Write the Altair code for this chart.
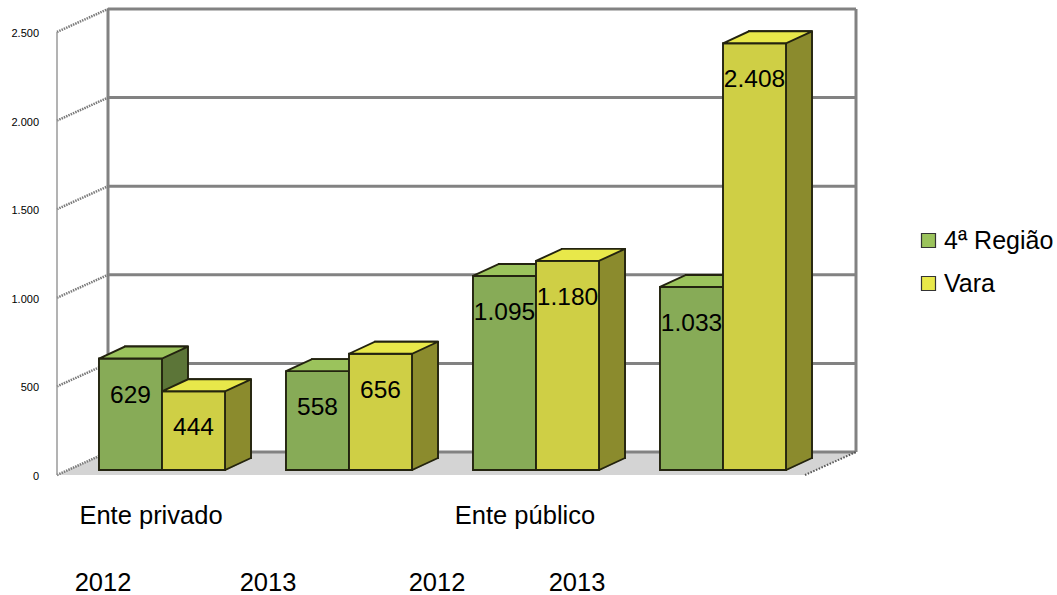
import altair as alt
import pandas as pd

# ---------------- data ----------------
groups = ["Ente privado 2012", "Ente privado 2013", "Ente público 2012", "Ente público 2013"]
series = ["4ª Região", "Vara"]
regiao_values = [629, 558, 1095, 1033]
vara_values = [444, 656, 1180, 2408]
y_ticks = [0, 500, 1000, 1500, 2000, 2500]
cat_labels = ["Ente privado", "Ente público"]
year_labels = ["2012", "2013", "2012", "2013"]

# ---------------- layout / style ----------------
W, H = 748, 443
PAD = {"left": 57, "top": 32, "right": 1057 - 57 - W, "bottom": 595 - 32 - H}
WALL_DX, WALL_DY = 51, 23
BAR_SX, BAR_SY = 11.5, 5
BAR_DX, BAR_DY = 26, 12
P_IN, P_OUT = 0.326, 0.163
front_colors = ["#87ab57", "#cfcf45"]
top_colors = ["#9bc35c", "#e8e84a"]
side_colors = ["#5c7538", "#8b8b2d"]
OUT = "#23230f"
GRID = "#828282"
FONT = "Liberation Sans"
cat_x = [94, 468]
cat_y = 484
year_x = [46, 211, 380, 520]
year_y = 551

rows = []
for g, r, v in zip(groups, regiao_values, vara_values):
    rows.append({"group": g, "series": series[0], "value": r})
    rows.append({"group": g, "series": series[1], "value": v})
df = pd.DataFrame(rows)
df["label"] = df["value"].map(lambda v: f"{v:,}".replace(",", "."))

ticks_df = pd.DataFrame({"v": y_ticks})
ticks_df["label"] = ticks_df["v"].map(lambda v: f"{v:,}".replace(",", "."))
one = pd.DataFrame({"lo": [0], "hi": [2500]})

yscale = alt.Scale(domain=[0, 2500], nice=False)

step = W / (len(groups) - P_IN + 2 * P_OUT)
BW = step * (1 - P_IN) / 2
u = BW / 2


def xenc(shift):
    return alt.X("group:N", scale=alt.Scale(type="band", domain=groups, range=[shift, shift + W],
                                            paddingInner=P_IN, paddingOuter=P_OUT),
                 axis=None, title=None)


xoff = alt.XOffset("series:N", scale=alt.Scale(type="band", domain=series,
                                               paddingInner=0, paddingOuter=0))


def yenc(field="value"):
    return alt.Y(f"{field}:Q", scale=yscale, axis=None, title=None)


# floor parallelogram as a custom symbol
fcx = (WALL_DX + W) / 2
fcy = H - WALL_DY / 2
fu = fcx
floor_path = (f"M -1 {WALL_DY/2/fu:.5f} L {(W - fcx)/fu:.5f} {WALL_DY/2/fu:.5f} "
              f"L 1 {-WALL_DY/2/fu:.5f} L {(WALL_DX - fcx)/fu:.5f} {-WALL_DY/2/fu:.5f} Z")
floor = alt.Chart(pd.DataFrame({"a": [0]})).mark_point(
    shape=floor_path, size=(2 * fu) ** 2, filled=True, fill="#d4d4d4", strokeWidth=0, opacity=1
).encode(x=alt.value(fcx), y=alt.value(fcy))

# back wall gridlines
grid = alt.Chart(ticks_df).mark_rule(color=GRID, strokeWidth=3, yOffset=-WALL_DY).encode(
    x=alt.value(WALL_DX), x2=alt.value(W + WALL_DX), y=yenc("v"))

walls = [
    alt.Chart(one).mark_rule(color=GRID, strokeWidth=3, yOffset=-WALL_DY, y2Offset=-WALL_DY).encode(
        x=alt.value(xv), y=yenc("lo"), y2="hi:Q")
    for xv in (WALL_DX, W + WALL_DX)
]

front_axis = alt.Chart(one).mark_rule(color="#9a9a9a", strokeWidth=1.5).encode(
    x=alt.value(0), y=yenc("lo"), y2="hi:Q")

axis_labels = alt.Chart(ticks_df).mark_text(font=FONT, fontSize=11, color="#000", align="right",
                                            baseline="middle", yOffset=2).encode(
    x=alt.value(-18), y=yenc("v"), text="label:N")

side_diag = alt.Chart(ticks_df).mark_rule(color="#7a7a7a", strokeWidth=2.5, strokeDash=[1.5, 1],
                                          y2Offset=-WALL_DY).encode(
    x=alt.value(0), x2=alt.value(WALL_DX), y=yenc("v"), y2="v:Q")

floor_edge = alt.Chart(one).mark_rule(color="#555555", strokeWidth=2, strokeDash=[1.5, 1.5],
                                      y2Offset=-WALL_DY).encode(
    x=alt.value(W), x2=alt.value(W + WALL_DX), y=yenc("lo"), y2="lo:Q")

# 3D bars
top_path = (f"M -1 0 L 1 0 L {1 + BAR_DX/u:.4f} {-BAR_DY/u:.4f} "
            f"L {-1 + BAR_DX/u:.4f} {-BAR_DY/u:.4f} Z")
patch_path = (f"M 1 0.03 L {1 + (BAR_DX - 1)/u:.4f} {-(BAR_DY - 0.4)/u:.4f} "
              f"L {1 + (BAR_DX - 1)/u:.4f} {-(BAR_DY + 1.4)/u:.4f} L 0.98 {-(BAR_DY + 1.4)/u:.4f} Z")
diag_path = f"M 1 0 L {1 + BAR_DX/u:.4f} {-BAR_DY/u:.4f}"

legend = alt.Legend(title=None, orient="none", legendX=859, legendY=196, symbolType="square",
                    symbolSize=196, symbolStrokeColor="#333333", symbolStrokeWidth=1.2,
                    labelFontSize=25, labelFont=FONT, labelColor="#000", rowPadding=17,
                    labelOffset=3)

SW = 1.9
bar_layers = []
for i, s in enumerate(series):
    base = alt.Chart(df).transform_filter(alt.datum.series == s)
    side = base.mark_bar(fill=side_colors[i], stroke=OUT, strokeWidth=SW,
                         yOffset=-(BAR_SY + BAR_DY), y2Offset=-(BAR_SY + BAR_DY)).encode(
        x=xenc(BAR_SX + BAR_DX), xOffset=xoff, y=yenc(), y2=alt.datum(0))
    patch = base.mark_point(shape=patch_path, size=BW ** 2, filled=True, fill=side_colors[i],
                            strokeWidth=0, opacity=1, yOffset=-BAR_SY).encode(
        x=xenc(BAR_SX), xOffset=xoff, y=alt.Y(datum=0, scale=yscale, axis=None, title=None))
    diag = base.mark_point(shape=diag_path, size=BW ** 2, filled=False, stroke=OUT,
                           strokeWidth=SW, opacity=1, yOffset=-BAR_SY).encode(
        x=xenc(BAR_SX), xOffset=xoff, y=alt.Y(datum=0, scale=yscale, axis=None, title=None))
    front = base.mark_bar(fill=front_colors[i], stroke=OUT, strokeWidth=SW,
                          yOffset=-BAR_SY, y2Offset=-BAR_SY).encode(
        x=xenc(BAR_SX), xOffset=xoff, y=yenc(), y2=alt.datum(0))
    top = base.mark_point(shape=top_path, size=BW ** 2, filled=True, stroke=OUT,
                          strokeWidth=SW, opacity=1, yOffset=-BAR_SY).encode(
        x=xenc(BAR_SX), xOffset=xoff, y=yenc(),
        fill=alt.Fill("series:N", scale=alt.Scale(domain=series, range=top_colors), legend=legend))
    bar_layers += [side, patch, diag, front, top]

values_text = alt.Chart(df).mark_text(font=FONT, fontSize=24.5, color="#000", align="center",
                                      baseline="middle", yOffset=-BAR_SY + 37).encode(
    x=xenc(BAR_SX), xOffset=xoff, y=yenc(), text="label:N")

texts = []
for lab, xv in zip(cat_labels, cat_x):
    texts.append(alt.Chart(pd.DataFrame({"t": [lab]})).mark_text(
        font=FONT, fontSize=25.5, color="#000", align="center", baseline="middle").encode(
        x=alt.value(xv), y=alt.value(cat_y), text="t:N"))
for lab, xv in zip(year_labels, year_x):
    texts.append(alt.Chart(pd.DataFrame({"t": [lab]})).mark_text(
        font=FONT, fontSize=25.5, color="#000", align="center", baseline="middle").encode(
        x=alt.value(xv), y=alt.value(year_y), text="t:N"))

chart = alt.layer(
    floor, grid, *walls, side_diag, floor_edge, front_axis, axis_labels,
    *bar_layers, values_text, *texts
).resolve_scale(x="independent", xOffset="independent").properties(
    width=W, height=H, autosize=alt.AutoSizeParams(type="none"), padding=PAD,
    background="white"
).configure_view(strokeWidth=0)

chart.save("out.html", embed_options={"renderer": "svg", "actions": False})
